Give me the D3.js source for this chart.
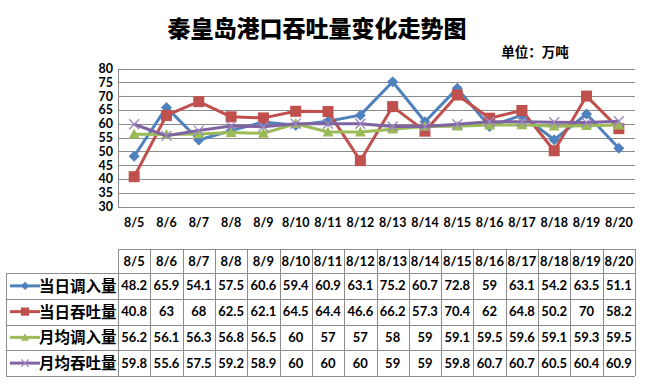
<!DOCTYPE html>
<html><head><meta charset="utf-8">
<script src="https://cdn.jsdelivr.net/npm/d3@7"></script>
<style>body{margin:0;background:#fff;}svg{display:block;}</style>
</head><body>
<script>
const categories = ["8/5","8/6","8/7","8/8","8/9","8/10","8/11","8/12","8/13","8/14","8/15","8/16","8/17","8/18","8/19","8/20"];
const seriesNames = ["当日调入量","当日吞吐量","月均调入量","月均吞吐量"];
const dailyIn   = [48.2,65.9,54.1,57.5,60.6,59.4,60.9,63.1,75.2,60.7,72.8,59,63.1,54.2,63.5,51.1];
const dailyThru = [40.8,63,68,62.5,62.1,64.5,64.4,46.6,66.2,57.3,70.4,62,64.8,50.2,70,58.2];
const monthIn   = [56.2,56.1,56.3,56.8,56.5,60,57,57,58,59,59.1,59.5,59.6,59.1,59.3,59.5];
const monthThru = [59.8,55.6,57.5,59.2,58.9,60,60,60,59,59,59.8,60.7,60.7,60.5,60.4,60.9];
const yTicks = [30,35,40,45,50,55,60,65,70,75,80];
const title = "秦皇岛港口吞吐量变化走势图";
const unitText = "单位：万吨";

const seriesValues = [dailyIn, dailyThru, monthIn, monthThru];
const colors = ["#4F81BD","#C0504D","#9BBB59","#8064A2"];
const markerColors = ["#4F81BD","#C0504D","#9BBB59","#9B85C0"];
const markers = ["diamond","square","triangle","cross"];

const W = 648, H = 385;
const svg = d3.select("body").append("svg").attr("width", W).attr("height", H);
const latin = "Lato, 'Liberation Sans', sans-serif";
const cjk = "'Noto Sans CJK SC', sans-serif";

svg.append("text").attr("x", 317).attr("y", 37).attr("text-anchor","middle")
  .attr("font-family", cjk).attr("font-weight", 900).attr("font-size", 23).text(title);
svg.append("text").attr("x", 535).attr("y", 57).attr("text-anchor","middle")
  .attr("font-family", cjk).attr("font-weight", 700).attr("font-size", 13.5).text(unitText);

const pLeft = 118, pRight = 635, pTop = 68.5, pBottom = 206.5;
const x = d3.scaleBand().domain(categories).range([pLeft, pRight]);
const y = d3.scaleLinear().domain([30, 80]).range([pBottom, pTop]);

const g = svg.append("g");
g.selectAll("line.grid").data(yTicks).join("line")
  .attr("x1", pLeft).attr("x2", pRight)
  .attr("y1", d => Math.round(y(d)) + 0.5).attr("y2", d => Math.round(y(d)) + 0.5)
  .attr("stroke", "#8c8c8c").attr("stroke-width", 1);
g.append("line").attr("x1", pLeft+0.5).attr("x2", pLeft+0.5).attr("y1", pTop).attr("y2", pBottom+1)
  .attr("stroke", "#8c8c8c");

const yAxis = d3.axisLeft(y).tickValues(yTicks).tickSize(0).tickPadding(5);
const ya = svg.append("g").attr("transform", `translate(${pLeft},0)`).call(yAxis);
ya.select(".domain").remove();
ya.selectAll("text").attr("font-family", latin).attr("font-weight", 700).attr("font-size", 12.5).attr("fill", "#000");

const xAxis = d3.axisBottom(x).tickSize(0).tickPadding(0);
const xa = svg.append("g").attr("transform", `translate(0,${pBottom + 12})`).call(xAxis);
xa.select(".domain").remove();
xa.selectAll("text").attr("font-family", latin).attr("font-weight", 700).attr("font-size", 12.5).attr("fill", "#000");

function drawMarker(sel, type, color, cx, cy, s) {
  if (type === "diamond") {
    sel.append("path").attr("d", `M${cx},${cy-s}L${cx+s},${cy}L${cx},${cy+s}L${cx-s},${cy}Z`).attr("fill", color);
  } else if (type === "square") {
    sel.append("rect").attr("x", cx-s).attr("y", cy-s).attr("width", 2*s).attr("height", 2*s).attr("fill", color);
  } else if (type === "triangle") {
    sel.append("path").attr("d", `M${cx},${cy-s}L${cx+s},${cy+s*0.8}L${cx-s},${cy+s*0.8}Z`).attr("fill", color);
  } else {
    sel.append("path").attr("d", `M${cx-s},${cy-s}L${cx+s},${cy+s}M${cx-s},${cy+s}L${cx+s},${cy-s}`)
      .attr("stroke", color).attr("stroke-width", 1.3).attr("fill", "none");
  }
}
const markerSize = [5.5, 5.5, 5.5, 5];

const line = d3.line().x((d, i) => x(categories[i]) + x.bandwidth()/2).y(d => y(d));
seriesValues.forEach((vals, si) => {
  const sg = svg.append("g");
  sg.append("path").datum(vals).attr("d", line).attr("fill", "none")
    .attr("stroke", colors[si]).attr("stroke-width", 3).attr("stroke-linejoin", "round");
  vals.forEach((v, i) => drawMarker(sg, markers[si], markerColors[si], x(categories[i]) + x.bandwidth()/2, y(v), markerSize[si]));
});

const tTop = 249, headH = 24, rowH = 25.75, tLeft = 6;
const tBottom = tTop + headH + rowH * 4;
const tg = svg.append("g");
const bc = "#8c8c8c";
tg.append("line").attr("x1", pLeft).attr("x2", pRight).attr("y1", tTop+0.5).attr("y2", tTop+0.5).attr("stroke", bc);
for (let r = 0; r <= 4; r++) {
  const yy = Math.round(tTop + headH + r * rowH) + 0.5;
  tg.append("line").attr("x1", tLeft).attr("x2", pRight).attr("y1", yy).attr("y2", yy).attr("stroke", bc);
}
const xs = categories.map(c => x(c)).concat([pRight]);
xs.forEach(xx => {
  tg.append("line").attr("x1", Math.round(xx)+0.5).attr("x2", Math.round(xx)+0.5)
    .attr("y1", tTop).attr("y2", tBottom).attr("stroke", bc);
});
tg.append("line").attr("x1", tLeft+0.5).attr("x2", tLeft+0.5).attr("y1", tTop+headH).attr("y2", tBottom).attr("stroke", bc);

tg.selectAll("text.h").data(categories).join("text")
  .attr("x", d => x(d) + x.bandwidth()/2).attr("y", tTop + headH/2 + 4.5)
  .attr("text-anchor", "middle").attr("font-family", latin).attr("font-weight", 700).attr("font-size", 13).text(d => d);

seriesValues.forEach((vals, si) => {
  const cy = tTop + headH + si * rowH + rowH/2;
  tg.selectAll(null).data(vals).join("text")
    .attr("x", (d, i) => x(categories[i]) + x.bandwidth()/2).attr("y", cy + 4.5)
    .attr("text-anchor", "middle").attr("font-family", latin).attr("font-weight", 700).attr("font-size", 13).text(d => d);
  tg.append("line").attr("x1", 10).attr("x2", 40).attr("y1", cy).attr("y2", cy)
    .attr("stroke", colors[si]).attr("stroke-width", 3);
  drawMarker(tg, markers[si], markerColors[si], 25, cy, markerSize[si] * 0.75);
  tg.append("text").attr("x", 39).attr("y", cy + 6).attr("font-family", cjk).attr("font-weight", 700)
    .attr("font-size", 15.5).text(seriesNames[si]);
});
</script>
</body></html>
